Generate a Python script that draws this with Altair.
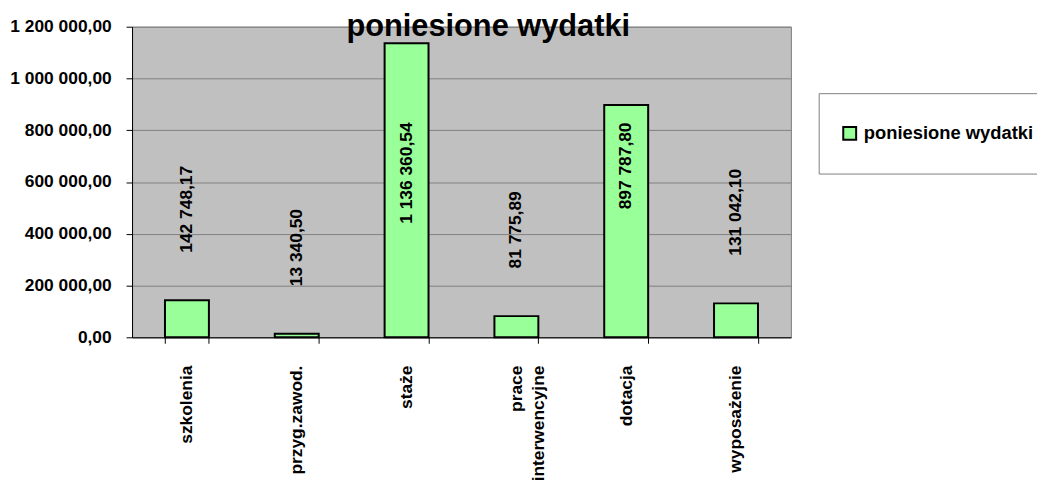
import altair as alt
import pandas as pd

categories = ["szkolenia", "przyg.zawod.", "staże", "prace interwencyjne", "dotacja", "wyposażenie"]
values = [142748.17, 13340.50, 1136360.54, 81775.89, 897787.80, 131042.10]
series_name = "poniesione wydatki"
y_ticks = [0, 200000, 400000, 600000, 800000, 1000000, 1200000]

df = pd.DataFrame({"kategoria": categories, "wartosc": values, "seria": [series_name] * len(categories)})

FONT = "Liberation Sans"
PL_FMT = "replace(replace(format({v}, ',.2f'), /,/g, ' '), '.', ',')"
LABEL_CAP = 830000  # labels that would leave the plot are pulled inside it

xenc = alt.X(
    "kategoria:N",
    sort=categories,
    scale=alt.Scale(paddingInner=0.6, paddingOuter=0.3),
    axis=alt.Axis(
        title=None,
        labelAngle=270,
        labelAlign="right",
        labelBaseline="middle",
        labelPadding=22,
        labelFontSize=17.5,
        labelFontWeight="bold",
        labelFont=FONT,
        labelColor="black",
        labelLineHeight=22,
        labelExpr="indexof(datum.label, ' ') > 0 ? split(datum.label, ' ') : datum.label",
        tickBand="extent",
        tickSize=6,
        tickColor="black",
        domainColor="black",
        domainWidth=1,
        grid=False,
    ),
)

yenc = alt.Y(
    "wartosc:Q",
    scale=alt.Scale(domain=[0, 1200000], nice=False),
    axis=alt.Axis(
        title=None,
        values=y_ticks,
        labelExpr=PL_FMT.format(v="datum.value"),
        labelFontSize=17.5,
        labelFontWeight="bold",
        labelFont=FONT,
        labelColor="black",
        labelPadding=15,
        tickSize=6,
        tickColor="black",
        domainColor="black",
        gridColor="#808080",
        gridWidth=1,
    ),
)

bars = alt.Chart(df).mark_bar(stroke="black", strokeWidth=2).encode(
    x=xenc,
    y=yenc,
    color=alt.Color(
        "seria:N",
        scale=alt.Scale(range=["#99FF99"]),
        legend=alt.Legend(
            title=None,
            orient="none",
            legendX=692,
            legendY=67,
            padding=22,
            clipHeight=37,
            strokeColor="#808080",
            fillColor="white",
            symbolType="square",
            symbolSize=169,
            symbolStrokeColor="black",
            symbolStrokeWidth=2,
            symbolFillColor="#99FF99",
            labelFontSize=18.5,
            labelFontWeight="bold",
            labelFont=FONT,
            labelColor="black",
            labelOffset=5,
            labelLimit=400,
        ),
    ),
)

base_text = alt.Chart(df).transform_calculate(
    etykieta=PL_FMT.format(v="datum.wartosc"),
    poz=f"min(datum.wartosc, {LABEL_CAP})",
)

outside = base_text.transform_filter("datum.wartosc < 600000").mark_text(
    angle=270, align="left", baseline="middle", dx=48,
    fontSize=17.5, fontWeight="bold", font=FONT, color="black",
).encode(x=alt.X("kategoria:N", sort=categories), y="wartosc:Q", text="etykieta:N")

inside = base_text.transform_filter("datum.wartosc >= 600000").mark_text(
    angle=270, align="right", baseline="middle",
    fontSize=17.5, fontWeight="bold", font=FONT, color="black",
).encode(x=alt.X("kategoria:N", sort=categories), y="poz:Q", text="etykieta:N")

chart = alt.layer(bars, outside, inside).properties(
    width=664,
    height=313,
    title=alt.TitleParams(
        text=series_name,
        fontSize=31,
        fontWeight="bold",
        font=FONT,
        color="black",
        anchor="middle",
        baseline="alphabetic",
        offset=-49,
        dx=27,
    ),
    autosize=alt.AutoSizeParams(type="none"),
    padding={"left": 125, "top": 17, "right": 248, "bottom": 146},
).configure(
    background="white",
    view=alt.ViewConfig(fill="#C0C0C0", stroke="#808080", strokeWidth=1),
)

chart.save("out.html", embed_options={"renderer": "svg", "actions": False})
